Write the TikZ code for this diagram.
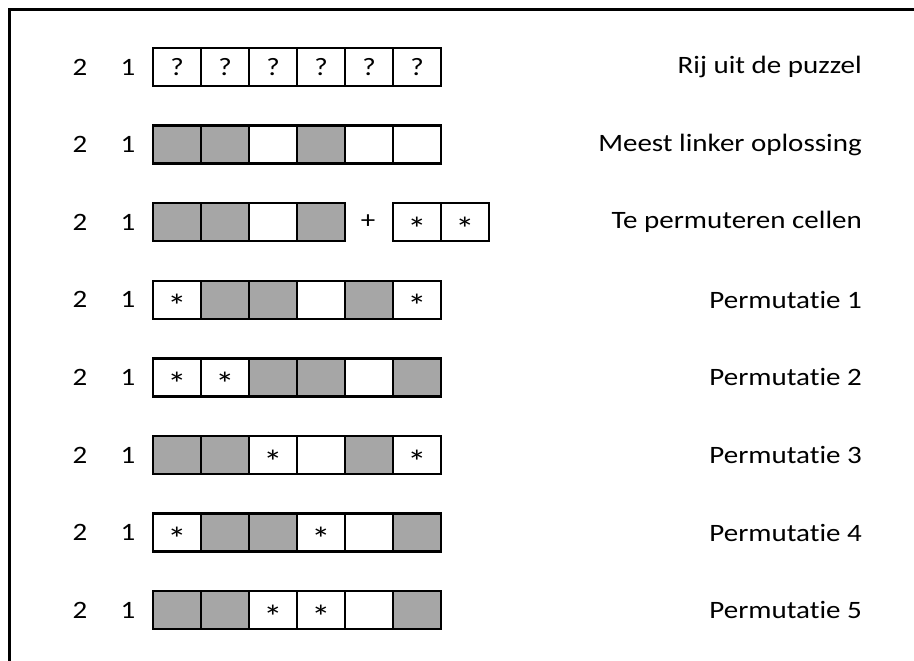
\documentclass[tikz,border=0pt]{standalone}
\usepackage{fontspec}
\setmainfont{Carlito}[Ligatures=NoCommon, FakeStretch=1.16]
\usetikzlibrary{positioning}
\definecolor{cellgray}{HTML}{A6A6A6}

\begin{document}
\begin{tikzpicture}[
    x=1pt, y=-1pt,
    cell/.style={draw, line width=2.3pt, minimum width=48pt, minimum height=38pt, inner sep=0pt, font=\fontsize{25}{25}\selectfont},
    cg/.style={fill=cellgray, node contents={}},
    cw/.style={node contents={}},
    cq/.style={node contents={?}},
    cs/.style={font=\fontsize{33}{33}\selectfont, text height=36pt, text depth=0pt, node contents={*}},
    clue/.style={font=\fontsize{25}{25}\selectfont},
    caption/.style={anchor=east, inner sep=0pt, font=\fontsize{25}{25}\selectfont},
]
\useasboundingbox (0,0) rectangle (914,661);

% outer frame, open to the right and bottom
\draw[line width=3pt] (9,661) -- (9,10) -- (914,10);

\foreach \r/\cells/\txt in {
    1/{cq,cq,cq,cq,cq,cq}/Rij uit de puzzel,
    2/{cg,cg,cw,cg,cw,cw}/Meest linker oplossing,
    3/{cg,cg,cw,cg}/Te permuteren cellen,
    4/{cs,cg,cg,cw,cg,cs}/Permutatie 1,
    5/{cs,cs,cg,cg,cw,cg}/Permutatie 2,
    6/{cg,cg,cs,cw,cg,cs}/Permutatie 3,
    7/{cs,cg,cg,cs,cw,cg}/Permutatie 4,
    8/{cg,cg,cs,cs,cw,cg}/Permutatie 5} {
  \pgfmathsetmacro\yy{67+77.6*(\r-1)}
  \node[clue] (two\r) at (80,\yy) {2};
  \node[clue] (one\r) at (128,\yy) {1};
  \foreach \k [count=\i] in \cells {
    \node[cell, \k, at={(177+48*\i-48,\yy)}, name=r\r c\i];
  }
  \node[caption] (txt\r) at (862,\yy) {\txt};
}

% the two free cells that get shuffled in
\node[clue] (plus) at (368,222) {+};
\node[cell, cs, at={(417,222)}, name=x1];
\node[cell, cs, at={(465,222)}, name=x2];

\end{tikzpicture}
\end{document}
